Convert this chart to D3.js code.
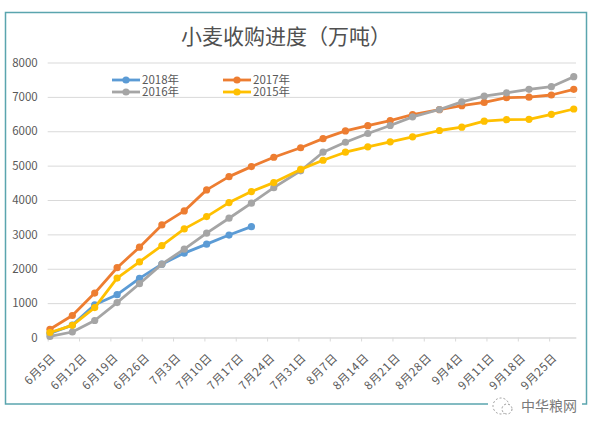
<!DOCTYPE html>
<html>
<head>
<meta charset="utf-8">
<script src="https://cdn.jsdelivr.net/npm/d3@7"></script>
<style>
  body { margin: 0; background: #fff; }
  text { font-family: "Noto Sans CJK SC", "Noto Sans", sans-serif; fill: #595959; }
</style>
</head>
<body>
<div id="chart"></div>
<script>
var width = 600
var height = 434

// report dates (every 5 days, month end)
const dates = ["06-05","06-10","06-15","06-20","06-25","06-30","07-05","07-10","07-15","07-20","07-25","07-31",
               "08-05","08-10","08-15","08-20","08-25","08-31","09-05","09-10","09-15","09-20","09-25","09-30"];

const s2018 = [120, 360, 950, 1245, 1720, 2134, 2455, 2715, 2980, 3225];
const s2017 = [240, 640, 1292, 2030, 2628, 3276, 3683, 4294, 4680, 4971, 5244, 5520,
               5785, 6009, 6163, 6308, 6483, 6628, 6744, 6840, 6976, 6990, 7055, 7220];
const s2016 = [30, 160, 494, 1015, 1565, 2134, 2570, 3035, 3470, 3907, 4360, 4850,
               5390, 5680, 5935, 6167, 6419, 6633, 6856, 7020, 7117, 7220, 7296, 7587];
const s2015 = [146, 355, 870, 1730, 2200, 2674, 3160, 3517, 3924, 4244, 4506, 4890,
               5157, 5390, 5547, 5692, 5838, 6022, 6118, 6293, 6337, 6348, 6493, 6647];

const seriesNames = ["2018年", "2017年", "2016年", "2015年"];
const seriesColors = ["#5B9BD5", "#ED7D31", "#A5A5A5", "#FFC000"];

const yTicks = [0, 1000, 2000, 3000, 4000, 5000, 6000, 7000, 8000];
const tickDates = ["06-05","06-12","06-19","06-26","07-03","07-10","07-17","07-24","07-31",
                   "08-07","08-14","08-21","08-28","09-04","09-11","09-18","09-25"];

const title = "小麦收购进度（万吨）";

const parse = s => d3.utcParse("%Y-%m-%d")("2018-" + s);

var svg = d3.select("#chart").append("svg")
    .attr("width", width)
    .attr("height", height)

// outer frame
svg.append("rect")
    .attr("x", 5.5).attr("y", 12.5)
    .attr("width", 581).attr("height", 391.5)
    .attr("fill", "none")
    .attr("stroke", "#5AA5AE")
    .attr("stroke-width", 1.5)

svg.append("text")
    .attr("x", 286).attr("y", 44)
    .attr("text-anchor", "middle")
    .attr("font-size", 21)
    .style("fill", "#505050")
    .text(title)

const margin = {top: 62.5, left: 47.7, right: 24, bottom: 96.5}
const innerWidth = width - margin.left - margin.right
const innerHeight = height - margin.top - margin.bottom

const xScale = d3.scaleUtc()
    .domain([parse("06-05"), parse("10-01")])
    .range([0, innerWidth])

const yScale = d3.scaleLinear()
    .domain([0, 8000])
    .range([innerHeight, 0])

const g = svg.append("g")
    .attr("transform", `translate(${margin.left}, ${margin.top})`)

// gridlines + y labels
const yAxis = d3.axisLeft(yScale)
    .tickValues(yTicks)
    .tickSize(-innerWidth)
    .tickPadding(10)
    .tickFormat(d3.format("d"))

g.append("g").call(yAxis)
    .call(a => a.select(".domain").remove())
    .call(a => a.selectAll("line").attr("stroke", "#D9D9D9"))
    .call(a => a.selectAll("text").attr("font-size", 11.5).attr("fill", "#595959"))

// x axis
const fmt = d => (d.getUTCMonth() + 1) + "月" + d.getUTCDate() + "日"
const xAxis = d3.axisBottom(xScale)
    .tickValues(tickDates.map(parse))
    .tickSize(4)
    .tickSizeOuter(0)
    .tickFormat(fmt)

g.append("g").call(xAxis)
    .attr("transform", `translate(0, ${innerHeight})`)
    .call(a => a.select(".domain").attr("stroke", "#D9D9D9"))
    .call(a => a.selectAll("line").attr("stroke", "#D9D9D9"))
    .call(a => a.selectAll("text")
        .attr("font-size", 11.5)
        .attr("fill", "#666")
        .attr("letter-spacing", 0.6)
        .attr("text-anchor", "end")
        .attr("x", 0).attr("y", 0).attr("dy", 0)
        .attr("transform", "translate(8, 21) rotate(-45)"))

// series, drawn in legend order
const allSeries = [s2018, s2017, s2016, s2015]
const xPos = i => xScale(d3.utcHour.offset(parse(dates[i]), 12))

const line = d3.line()
    .x((d, i) => xPos(i))
    .y(d => yScale(d))

allSeries.forEach((vals, k) => {
    const sg = g.append("g")
    sg.append("path")
        .datum(vals)
        .attr("d", line)
        .attr("fill", "none")
        .attr("stroke", seriesColors[k])
        .attr("stroke-width", 2.8)
        .attr("stroke-linejoin", "round")
    sg.selectAll("circle").data(vals)
        .enter().append("circle")
        .attr("cx", (d, i) => xPos(i))
        .attr("cy", d => yScale(d))
        .attr("r", 3.6)
        .attr("fill", seriesColors[k])
})

// legend
const legendPos = [[112, 80], [223, 80], [112, 92], [223, 92]]
seriesNames.forEach((name, k) => {
    const lg = svg.append("g")
        .attr("transform", `translate(${legendPos[k][0]}, ${legendPos[k][1]})`)
    lg.append("line")
        .attr("x1", 0).attr("x2", 28)
        .attr("stroke", seriesColors[k])
        .attr("stroke-width", 2.8)
    lg.append("circle")
        .attr("cx", 14).attr("r", 3.6)
        .attr("fill", seriesColors[k])
    lg.append("text")
        .attr("x", 30).attr("y", 4)
        .attr("font-size", 11.5)
        .text(name)
})

// watermark
const wm = svg.append("g").attr("transform", "translate(488, 406)")
wm.append("rect").attr("x", 0).attr("y", -9).attr("width", 94).attr("height", 18).attr("fill", "#fff")
wm.append("circle").attr("cx", 13).attr("cy", 0).attr("r", 8)
    .attr("fill", "none").attr("stroke", "#9a9a9a").attr("stroke-dasharray", "2,2")
wm.append("circle").attr("cx", 19).attr("cy", 3).attr("r", 5)
    .attr("fill", "#fff").attr("stroke", "#9a9a9a").attr("stroke-dasharray", "2,2")
wm.append("text")
    .attr("x", 33).attr("y", 5)
    .attr("font-size", 14)
    .style("fill", "#7a7a7a")
    .text("中华粮网")
</script>
</body>
</html>
